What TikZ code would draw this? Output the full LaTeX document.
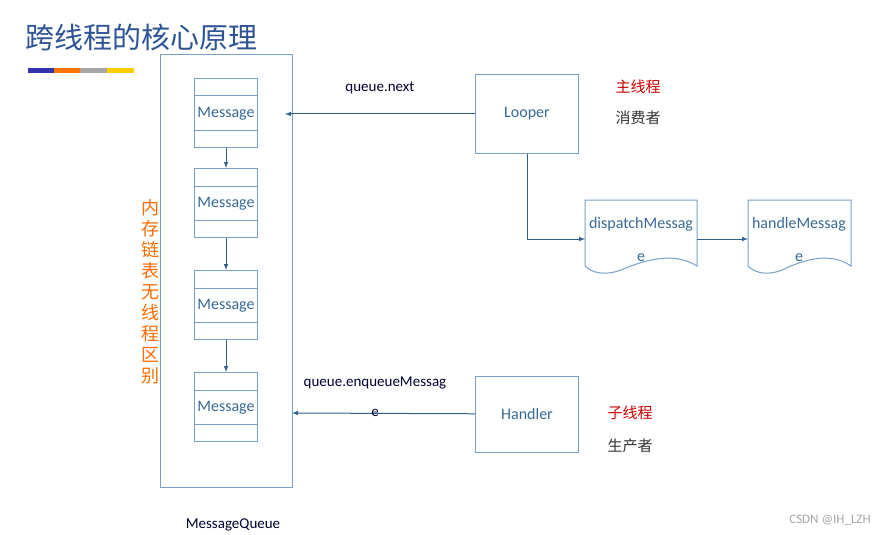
\documentclass[tikz,border=0pt]{standalone}
\usepackage{fontspec}
\setmainfont{Carlito}
\newfontfamily\cjk{Noto Sans CJK SC}
\definecolor{bxc}{RGB}{120,160,200}
\definecolor{arc}{RGB}{50,95,140}
\definecolor{txc}{RGB}{55,105,150}
\definecolor{tic}{RGB}{46,84,150}
\begin{document}
\begin{tikzpicture}[x=1pt,y=-1pt,
  bx/.style={draw=bxc, line width=1pt},
  ar/.style={draw=arc, line width=1pt,-latex},
  txt/.style={text=txc, font=\fontsize{16}{16}\selectfont},
  lbl/.style={text=black!80!blue, font=\fontsize{15}{15}\selectfont}]
\useasboundingbox[fill=white] (0,0) rectangle (895,535);
\node[anchor=west, text=tic, font=\cjk\fontsize{29}{29}\selectfont] (title) at (22,37) {跨线程的核心原理};
\fill[blue!60!black!80] (28,68) rectangle (54,73);
\fill[orange!90!red] (54,68) rectangle (80,73);
\fill[gray!70] (80,68) rectangle (107,73);
\fill[orange!40!yellow] (107,68) rectangle (134,73);
\node[bx, minimum width=132, minimum height=432, inner sep=0] (mq) at (226,271) {};
\node[lbl] (mqlbl) at (233,525) {MessageQueue};
\foreach \i/\y in {1/78,2/168,3/270,4/372}{
  \node[bx, minimum width=63, minimum height=69, inner sep=0, anchor=north] (m\i) at (226,\y) {};
  \draw[bx] (194,\y+18) -- (257,\y+18);
  \draw[bx] (194,\y+52) -- (257,\y+52);
  \node[txt] at (226,\y+36) {Message};
}
\draw[ar] (m1) -- (m2);
\draw[ar] (m2) -- (m3);
\draw[ar] (m3) -- (m4);
\node[text=orange!85!red, font=\cjk\fontsize{18}{21}\selectfont, align=center] (vt) at (150,292) {内\\存\\链\\表\\无\\线\\程\\区\\别};
\node[bx, minimum width=103, minimum height=79, inner sep=0, txt] (looper) at (527,114) {Looper};
\coordinate (qn) at (285,114);
\draw[ar] (looper) -- (qn);
\node[lbl] (qnl) at (380,88) {queue.next};
\node[text=red!80!black, font=\cjk\fontsize{15}{15}\selectfont, anchor=west] (zx) at (612,87) {主线程};
\node[text=black!80, font=\cjk\fontsize{15}{15}\selectfont, anchor=west] (xf) at (612,118) {消费者};
\draw[bx] (585,200) -- (697,200) -- (697,266) .. controls (672,250) and (640,262) .. (621,270) .. controls (605,276) and (592,273) .. (585,266) -- cycle;
\node[txt, anchor=north] (dm) at (641,214) {dispatchMessag};
\node[txt] (dme) at (641,258) {e};
\coordinate (dpl) at (585,239);
\draw[bx] (748,200) -- (851,200) -- (851,266) .. controls (828,250) and (799,262) .. (782,270) .. controls (767,276) and (755,273) .. (748,266) -- cycle;
\node[txt, anchor=north] (hm) at (799,214) {handleMessag};
\node[txt] (hme) at (799,258) {e};
\coordinate (hml) at (748,239);
\coordinate (dpr) at (697,239);
\draw[ar] (looper.south) |- (dpl);
\draw[ar] (dpr) -- (hml);
\node[bx, minimum width=103, minimum height=76, inner sep=0, txt] (handler) at (527,414) {Handler};
\coordinate (qe) at (292,413);
\draw[ar] (handler) -- (qe);
\node[lbl] (qel) at (375,383) {queue.enqueueMessag};
\node[lbl] (qel2) at (375,413) {e};
\node[text=red!80!black, font=\cjk\fontsize{15}{15}\selectfont, anchor=west] (zx2) at (604,413) {子线程};
\node[text=black!80, font=\cjk\fontsize{15}{15}\selectfont, anchor=west] (sc) at (604,446) {生产者};
\node[text=gray!70, font=\fontsize{13}{13}\selectfont] (wm) at (830,520) {CSDN @IH\_LZH};
\end{tikzpicture}
\end{document}
